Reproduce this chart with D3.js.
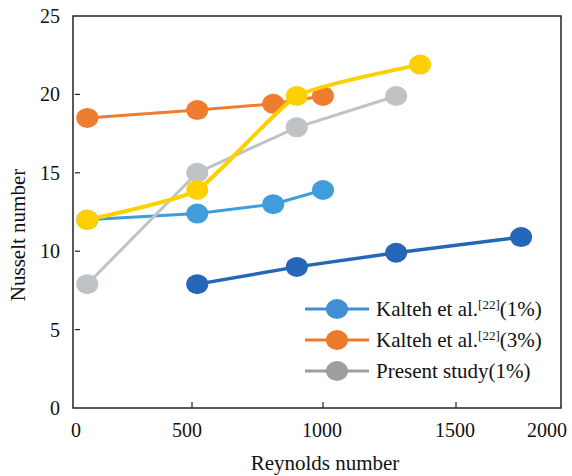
<!DOCTYPE html>
<html>
<head>
<meta charset="utf-8">
<script src="https://cdn.jsdelivr.net/npm/d3@7"></script>
<style>
  body { margin: 0; background: #fff; }
</style>
</head>
<body>
<script>
const width = 572, height = 476;
const serif = '"Liberation Serif", "Times New Roman", "DejaVu Serif", serif';

// data
const reKalteh = [60, 520, 810, 1000];
const nuKalteh1 = [12.0, 12.4, 13.0, 13.9];
const nuKalteh3 = [18.5, 19.0, 19.4, 19.9];
const rePresent = [60, 520, 900, 1275];
const nuPresent = [7.9, 15.0, 17.9, 19.9];
const reYellow = [60, 520, 900, 1365];
const nuYellow = [12.0, 13.9, 19.9, 21.9];
const reDark = [520, 900, 1275, 1810];
const nuDark = [7.9, 9.0, 9.9, 10.9];

const xTicks = [0, 500, 1000, 1500, 2000];
const yTicks = [0, 5, 10, 15, 20, 25];
const legendNames = ['Kalteh et al.', 'Kalteh et al.', 'Present study'];
const legendTails = ['(1%)', '(3%)', '(1%)'];

const svg = d3.select('body')
  .append('svg')
  .attr('width', width)
  .attr('height', height)
  .attr('font-family', serif)
  .attr('fill', '#111');

// the x axis in the picture is not evenly spaced, so use a piecewise scale
const x = d3.scaleLinear().domain(xTicks).range([73, 192, 323, 456, 561]);
const xLabel = d3.scaleLinear().domain(xTicks).range([76, 187, 322, 455, 547]);
const y = d3.scaleLinear().domain([0, 25]).range([408, 16]);

// frame
svg.append('rect')
  .attr('x', x(0)).attr('y', y(25))
  .attr('width', x(2000) - x(0)).attr('height', y(0) - y(25))
  .attr('fill', 'none').attr('stroke', '#222').attr('stroke-width', 1.5);

// y ticks, inside
svg.selectAll('.ytick')
  .data(yTicks.filter(d => d > 0 && d < 25))
  .enter().append('line')
  .attr('x1', x(0) + 2).attr('x2', x(0) + 7)
  .attr('y1', d => y(d)).attr('y2', d => y(d))
  .attr('stroke', '#222').attr('stroke-width', 1.2);

svg.selectAll('.ylab')
  .data(yTicks)
  .enter().append('text')
  .attr('x', 60)
  .attr('y', d => y(d) + 7)
  .attr('text-anchor', 'end')
  .style('font', '20px ' + serif)
  .text(d => d);

// x ticks, inside
svg.selectAll('.xtick')
  .data(xTicks.filter(d => d > 0 && d < 2000))
  .enter().append('line')
  .attr('x1', d => x(d)).attr('x2', d => x(d))
  .attr('y1', y(0) - 6).attr('y2', y(0))
  .attr('stroke', '#222').attr('stroke-width', 1.2);

svg.selectAll('.xlab')
  .data(xTicks)
  .enter().append('text')
  .attr('x', d => xLabel(d))
  .attr('y', 437)
  .attr('text-anchor', 'middle')
  .style('font', '20px ' + serif)
  .text(d => d);

// axis titles
svg.append('text')
  .attr('x', 325).attr('y', 470)
  .attr('text-anchor', 'middle')
  .style('font', '21px ' + serif)
  .text('Reynolds number');

svg.append('text')
  .attr('transform', 'translate(25,235) rotate(-90)')
  .attr('text-anchor', 'middle')
  .style('font', '21px ' + serif)
  .text('Nusselt number');

// series, drawn back to front
const series = [
  { re: reDark, nu: nuDark, color: '#2566b8', lw: 3.5, curve: d3.curveLinear },
  { re: reKalteh, nu: nuKalteh1, color: '#3f9ddb', lw: 3, curve: d3.curveLinear },
  { re: reKalteh, nu: nuKalteh3, color: '#ee7d2f', lw: 3, curve: d3.curveLinear },
  { re: rePresent, nu: nuPresent, color: '#bfc3c6', lw: 3, curve: d3.curveLinear },
  { re: reYellow, nu: nuYellow, color: '#ffd000', lw: 4, curve: d3.curveCardinal.tension(0.5) }
];

series.forEach(function (s) {
  const pts = s.re.map((r, i) => [r, s.nu[i]]);
  const line = d3.line()
    .x(d => x(d[0]))
    .y(d => y(d[1]))
    .curve(s.curve);
  const g = svg.append('g');
  g.append('path')
    .attr('d', line(pts))
    .attr('fill', 'none')
    .attr('stroke', s.color)
    .attr('stroke-width', s.lw);
  g.selectAll('ellipse')
    .data(pts)
    .enter().append('ellipse')
    .attr('cx', d => x(d[0]))
    .attr('cy', d => y(d[1]))
    .attr('rx', 11)
    .attr('ry', 10)
    .attr('fill', s.color);
});

// legend (only three series are listed)
const legendColors = ['#3f8fd2', '#ec7a2c', '#9e9e9e'];
const leg = svg.append('g');
legendNames.forEach(function (name, i) {
  const ly = 309 + i * 31;
  leg.append('line')
    .attr('x1', 305).attr('x2', 369)
    .attr('y1', ly).attr('y2', ly)
    .attr('stroke', legendColors[i]).attr('stroke-width', 3);
  leg.append('ellipse')
    .attr('cx', 337).attr('cy', ly)
    .attr('rx', 11).attr('ry', 10)
    .attr('fill', legendColors[i]);
  const t = leg.append('text')
    .attr('x', 376).attr('y', ly + 7)
    .style('font', '21px ' + serif);
  t.append('tspan').text(name);
  if (i < 2) {
    t.append('tspan')
      .attr('dy', -7)
      .style('font-size', '13px')
      .text('[22]');
    t.append('tspan').attr('dy', 7).text(legendTails[i]);
  } else {
    t.append('tspan').text(legendTails[i]);
  }
});
</script>
</body>
</html>
